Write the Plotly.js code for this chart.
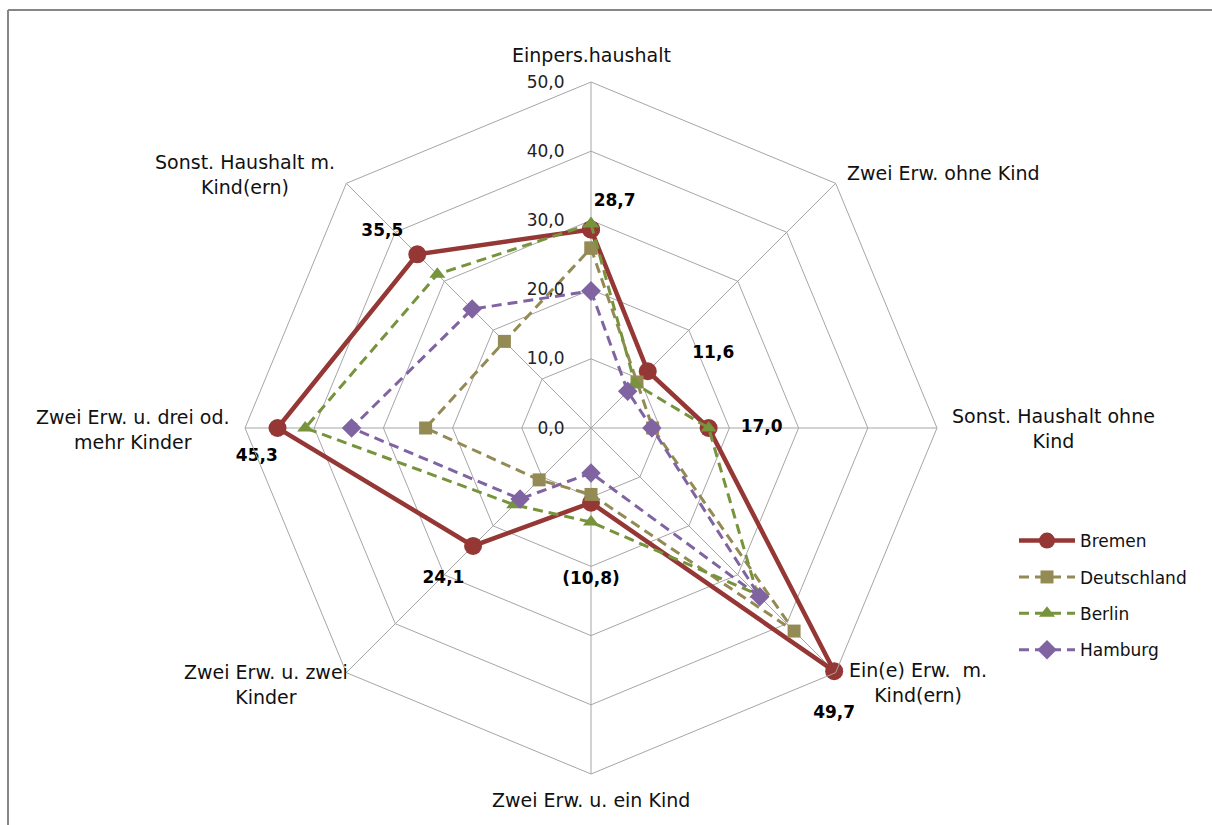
<!DOCTYPE html>
<html>
<head>
<meta charset="utf-8">
<script src="https://cdn.plot.ly/plotly-3.0.1.min.js"></script>
<style>html,body{margin:0;padding:0;background:#fff;}#chart{width:1212px;height:825px;}</style>
</head>
<body>
<div id="chart"></div>
<script>
// ---- data ----
const categories = [
  "Einpers.haushalt",
  "Zwei Erw. ohne Kind",
  "Sonst. Haushalt ohne Kind",
  "Ein(e) Erw.  m. Kind(ern)",
  "Zwei Erw. u. ein Kind",
  "Zwei Erw. u. zwei Kinder",
  "Zwei Erw. u. drei od. mehr Kinder",
  "Sonst. Haushalt m. Kind(ern)"
];
const categoryLabels = [
  "Einpers.haushalt",
  "Zwei Erw. ohne Kind",
  "Sonst. Haushalt ohne<br>Kind",
  "Ein(e) Erw.  m.<br>Kind(ern)",
  "Zwei Erw. u. ein Kind",
  "Zwei Erw. u. zwei<br>Kinder",
  "Zwei Erw. u. drei od.<br>mehr Kinder",
  "Sonst. Haushalt m.<br>Kind(ern)"
];
const bremen      = [28.7, 11.6, 17.0, 49.7, 10.8, 24.1, 45.3, 35.5];
const deutschland = [26.0,  9.4,  8.9, 41.5,  9.6, 10.6, 23.9, 17.7];
const berlin      = [29.5,  9.0, 17.0, 34.0, 13.6, 15.7, 41.3, 31.4];
const hamburg     = [19.8,  7.5,  8.8, 34.5,  6.5, 14.5, 34.6, 24.3];
const bremenLabels = ["28,7", "11,6", "17,0", "49,7", "(10,8)", "24,1", "45,3", "35,5"];
const radialTicks = [0, 10, 20, 30, 40, 50];
const radialTickText = ["0,0", "10,0", "20,0", "30,0", "40,0", "50,0"];

// ---- styling / layout helpers ----
const W = 1212, H = 825;
const cx = 591, cy = 428, R = 346;
const close = a => a.concat([a[0]]);
const thetaC = close(categories);
const font = "DejaVu Sans, Verdana, sans-serif";

const nb = "\u00a0";
const pad = n => nb.repeat(n);
// label placement styling (position, offset via invisible marker size, padding)
const labelPos = ["top center", "top right", "middle right", "bottom center",
                  "bottom center", "bottom center", "bottom center", "top left"];
const labelOffset = [19.5, 9, 32, 34.5, 68.5, 24.5, 20.5, 14];      // px from point
const labelPadL = [8, 6, 0, 0, 0, 0, 0, 0];
const labelPadR = [0, 0, 0, 0, 0, 10, 7, 0];
const labelText = bremenLabels.map((t, i) => pad(labelPadL[i]) + t + pad(labelPadR[i]));
const labelMarkerSize = labelOffset.map(r => 1.6 * (r - 1));

function series(name, vals, color, symbol, size, width, dash) {
  return {
    type: "scatterpolar", name: name,
    r: close(vals), theta: thetaC, mode: "lines+markers",
    line: {color: color, width: width, dash: dash},
    marker: {color: color, symbol: symbol, size: size, line: {width: 0}},
    legendgroup: name, cliponaxis: false
  };
}

const traces = [
  series("Bremen", bremen, "#953735", "circle", 18, 4.5, "solid"),
  series("Deutschland", deutschland, "#948A54", "square", 13, 3, "10px,6px"),
  series("Berlin", berlin, "#77933C", "triangle-up", 14, 3, "10px,6px"),
  series("Hamburg", hamburg, "#8064A2", "diamond", 15, 3, "10px,6px"),
  {
    type: "scatterpolar", r: bremen, theta: categories, mode: "markers+text",
    text: labelText, textposition: labelPos,
    marker: {size: labelMarkerSize, opacity: 0, color: "#fff"},
    textfont: {family: font, size: 17, color: "#000", weight: "bold"},
    showlegend: false, hoverinfo: "skip", cliponaxis: false
  }
];

// category label positions (pixel centres)
const catPos = [
  [591, 55, "center"], [845, 173, "left"], [1053, 428, "center"], [918, 682, "center"],
  [591, 800, "center"], [266, 684, "center"], [133, 429, "center"], [245, 174, "center"]
];
const annotations = categoryLabels.map((t, i) => ({
  text: t, xref: "paper", yref: "paper",
  x: catPos[i][0] / W, y: 1 - catPos[i][1] / H,
  xanchor: catPos[i][2], yanchor: "middle", align: "center",
  showarrow: false, font: {family: font, size: 19, color: "#111"}
}));

const layout = {
  width: W, height: H,
  margin: {l: 0, r: 0, t: 0, b: 0},
  paper_bgcolor: "#fff",
  font: {family: font, size: 16, color: "#222"},
  separators: ",.",
  polar: {
    domain: {x: [(cx - R) / W, (cx + R) / W], y: [1 - (cy + R) / H, 1 - (cy - R) / H]},
    gridshape: "linear",
    bgcolor: "rgba(0,0,0,0)",
    radialaxis: {
      range: [0, 50], tickvals: radialTicks, ticktext: radialTickText,
      angle: 90, tickangle: 90, side: "counterclockwise",
      showline: false, ticks: "outside", ticklen: 20, tickcolor: "rgba(0,0,0,0)",
      gridcolor: "#a6a6a6", gridwidth: 1,
      tickfont: {family: font, size: 17, color: "#222"}
    },
    angularaxis: {
      direction: "clockwise", rotation: 90,
      showticklabels: false, ticks: "",
      linecolor: "#a6a6a6", linewidth: 1, gridcolor: "#a6a6a6", gridwidth: 1
    }
  },
  showlegend: true,
  legend: {
    x: 1014 / W, y: 1 - 523 / H, xanchor: "left", yanchor: "top",
    font: {family: font, size: 17, color: "#111"},
    itemwidth: 56, tracegroupgap: 11.3, traceorder: "grouped",
    bgcolor: "rgba(0,0,0,0)"
  },
  annotations: annotations,
  shapes: [
    {type: "line", xref: "paper", yref: "paper", x0: 8 / W, x1: 1, y0: 1 - 10 / H, y1: 1 - 10 / H,
     line: {color: "#868686", width: 2}},
    {type: "line", xref: "paper", yref: "paper", x0: 8 / W, x1: 8 / W, y0: 0, y1: 1 - 10 / H,
     line: {color: "#868686", width: 2}}
  ]
};

Plotly.newPlot("chart", traces, layout, {displayModeBar: false, staticPlot: true});
</script>
</body>
</html>
